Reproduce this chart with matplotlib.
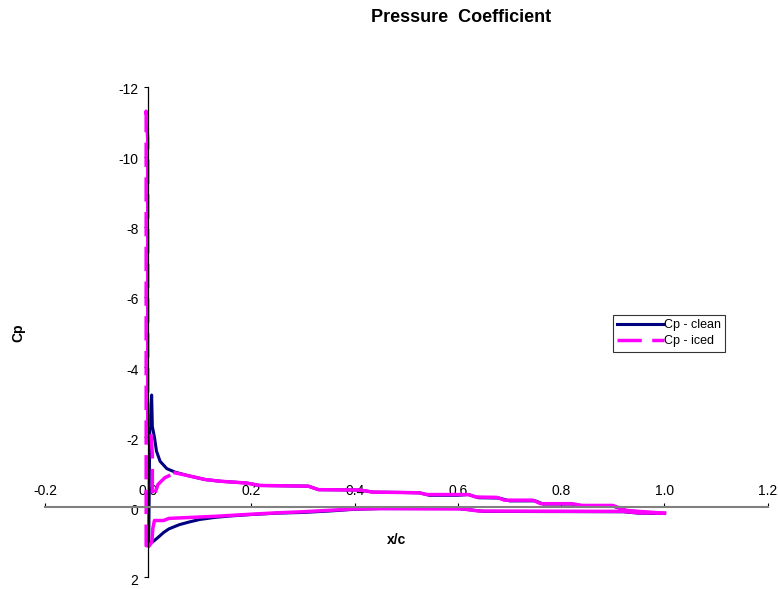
import matplotlib
matplotlib.use("Agg")
import matplotlib.pyplot as plt
from matplotlib.transforms import ScaledTranslation
from matplotlib.lines import Line2D

plt.rcParams['font.family'] = ['Liberation Sans', 'DejaVu Sans']
plt.rcParams['axes.unicode_minus'] = False

# clean airfoil: lower surface TE -> LE, then upper surface LE -> TE
clean_x = [1.0, 0.95, 0.92, 0.65, 0.62, 0.60, 0.45, 0.40, 0.35, 0.30, 0.25,
           0.20, 0.16, 0.13, 0.10, 0.08, 0.06, 0.04, 0.03, 0.02, 0.012,
           0.005, 0.001, 0.003, 0.0066, 0.008, 0.012, 0.016, 0.023, 0.036,
           0.052, 0.077, 0.11, 0.14, 0.19, 0.216, 0.31, 0.33, 0.41, 0.435,
           0.49, 0.525, 0.545, 0.60, 0.62, 0.64, 0.68, 0.70, 0.75, 0.765,
           0.82, 0.845, 0.90, 0.93, 0.96, 1.0]
clean_cp = [0.18, 0.17, 0.13, 0.12, 0.07, 0.04, 0.04, 0.06, 0.11, 0.15, 0.17,
            0.21, 0.25, 0.29, 0.35, 0.42, 0.50, 0.62, 0.72, 0.85, 0.95,
            1.03, 1.0, -2.2, -3.2, -2.3, -2.0, -1.6, -1.31, -1.10,
            -1.0, -0.9, -0.79, -0.74, -0.69, -0.62, -0.60, -0.50, -0.49, -0.43,
            -0.42, -0.41, -0.34, -0.34, -0.36, -0.27, -0.26, -0.18, -0.18, -0.09,
            -0.09, -0.03, -0.03, 0.11, 0.14, 0.18]

# iced airfoil
iced_x = [1.0, 0.95, 0.92, 0.64, 0.61, 0.45, 0.40, 0.35, 0.30, 0.25, 0.20,
          0.13, 0.10, 0.07, 0.04, 0.03, 0.012, 0.009, 0.007, 0.002, -0.004,
          -0.004, -0.001, -0.001, 0.005, 0.008, 0.008, 0.010, 0.019, 0.032,
          0.052, 0.077, 0.11, 0.14, 0.19, 0.216, 0.31, 0.33, 0.41, 0.435,
          0.49, 0.525, 0.54, 0.62, 0.635, 0.675, 0.69, 0.745, 0.76, 0.82,
          0.84, 0.90, 0.925, 0.95, 1.0]
iced_cp = [0.17, 0.16, 0.12, 0.11, 0.05, 0.04, 0.05, 0.09, 0.13, 0.16, 0.20,
           0.26, 0.28, 0.30, 0.32, 0.38, 0.38, 0.60, 1.0, 1.1, 1.1,
           -11.3, -10.5, -2.2, -2.2, -1.5, -0.3, -0.27, -0.65, -0.84,
           -0.98, -0.9, -0.79, -0.74, -0.69, -0.62, -0.60, -0.50, -0.49, -0.43,
           -0.42, -0.41, -0.36, -0.36, -0.29, -0.28, -0.20, -0.20, -0.10, -0.10,
           -0.05, -0.05, 0.09, 0.12, 0.17]

x_ticks = [-0.2, 0.0, 0.2, 0.4, 0.6, 0.8, 1.0, 1.2]
y_ticks = [-12, -10, -8, -6, -4, -2, 0, 2]

navy = '#000080'
magenta = '#ff00ff'
dash = (7, 3)

fig = plt.figure(figsize=(7.78, 5.89), dpi=100)
ax = fig.add_axes([0.0578, 0.0199, 0.929, 0.833])

ax.plot(clean_x, clean_cp, color=navy, lw=2.2)

# Excel restarts the dash on every short segment, so the densely sampled
# parts look solid; only the leading-edge ice spike shows the dashes
a, b = 19, 30
ax.plot(iced_x[:a + 1], iced_cp[:a + 1], color=magenta, lw=2.5)
ax.plot(iced_x[a:b + 1], iced_cp[a:b + 1], color=magenta, lw=2.5, dashes=dash)
ax.plot(iced_x[b:], iced_cp[b:], color=magenta, lw=2.5)

ax.set_xlim(-0.2, 1.2)
ax.set_ylim(2, -12)
ax.set_xticks(x_ticks)
ax.set_xticklabels(['%.1f' % v for v in x_ticks])
ax.set_yticks(y_ticks)
ax.set_yticklabels([str(v) for v in y_ticks])

for s in ['top', 'right']:
    ax.spines[s].set_visible(False)
ax.spines['left'].set_position(('data', 0))
ax.spines['bottom'].set_position(('data', 0))
ax.spines['bottom'].set_color('#808080')
ax.spines['bottom'].set_linewidth(1.5)
ax.spines['left'].set_linewidth(0.9)
ax.xaxis.set_ticks_position('bottom')
ax.yaxis.set_ticks_position('left')
ax.tick_params(axis='x', direction='in', length=3, pad=-17, labelsize=10,
               color='black')
ax.tick_params(axis='y', direction='out', length=3, pad=4, labelsize=10)
for lbl in ax.get_yticklabels():
    lbl.set_transform(lbl.get_transform() +
                      ScaledTranslation(0, -2 / 100, fig.dpi_scale_trans))

fig.text(461 / 778, 1 - 18 / 589, 'Pressure  Coefficient', ha='center',
         va='center', fontsize=13, fontweight='bold')
fig.text(18 / 778, 1 - 333 / 589, 'Cp', rotation=90, ha='center',
         va='center', fontsize=10, fontweight='bold')
fig.text(397 / 778, 1 - 540 / 589, 'x/c', ha='center', va='center',
         fontsize=10, fontweight='bold')

handles = [Line2D([], [], color=navy, lw=2.2),
           Line2D([], [], color=magenta, lw=2.5, dashes=dash)]
leg = fig.legend(handles, ['Cp - clean', 'Cp - iced'], loc='upper left',
                 bbox_to_anchor=(613 / 778, 1 - 315 / 589),
                 fontsize=9, frameon=True, fancybox=False, borderaxespad=0,
                 handlelength=3.7, handletextpad=0.0, borderpad=0.35,
                 labelspacing=0.3)
leg.get_frame().set_edgecolor('black')
leg.get_frame().set_linewidth(0.8)

fig.savefig('out.png', dpi=100)
